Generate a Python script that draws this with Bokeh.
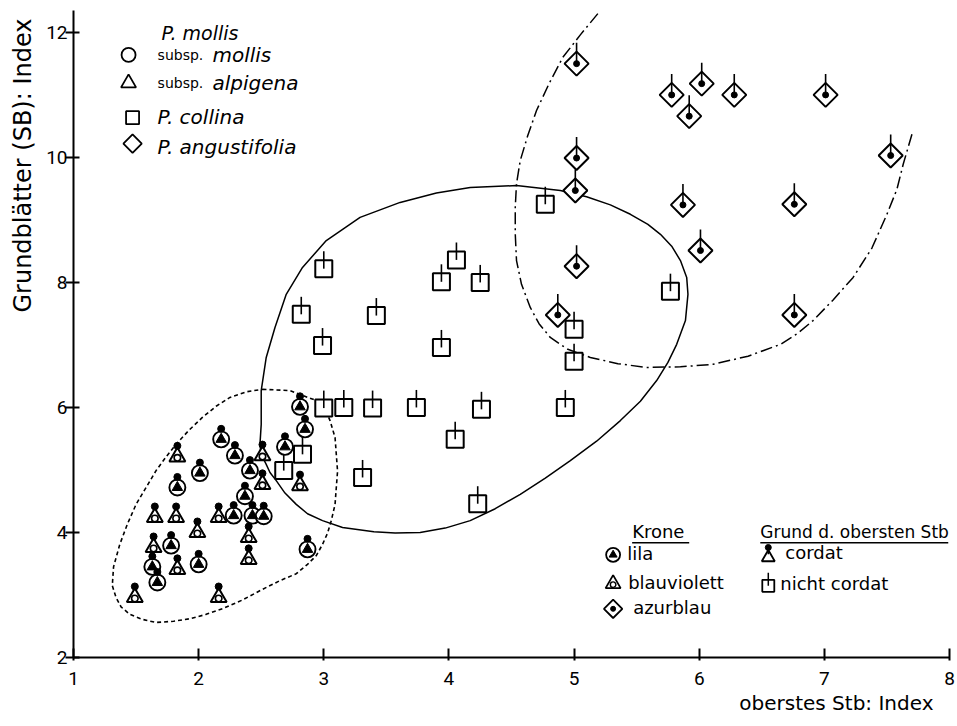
import math
from bokeh.plotting import figure
from bokeh.models import Range1d, FixedTicker, Label, Title
from bokeh.embed import file_html
from bokeh.resources import INLINE

# ---------------- data ----------------
x_ticks = [1, 2, 3, 4, 5, 6, 7, 8]
y_ticks = [2, 4, 6, 8, 10, 12]

# P. mollis subsp. mollis  (circle, Krone lila, cordat)
mollis_x = [2.81, 2.85, 2.69, 2.18, 2.29, 2.41, 2.01, 1.83, 2.37, 2.28, 2.43, 2.52, 1.78, 1.63, 1.67, 2.00, 2.87]
mollis_y = [6.01, 5.65, 5.37, 5.49, 5.23, 4.99, 4.95, 4.72, 4.58, 4.27, 4.27, 4.26, 3.79, 3.45, 3.20, 3.49, 3.73]

# P. mollis subsp. alpigena (triangle, Krone blauviolett, cordat)
alpigena_x = [1.83, 2.51, 2.51, 2.81, 1.65, 1.82, 2.16, 1.99, 1.64, 2.40, 2.40, 1.83, 1.49, 2.16]
alpigena_y = [5.21, 5.23, 4.77, 4.75, 4.24, 4.24, 4.24, 4.00, 3.76, 3.92, 3.57, 3.41, 2.96, 2.96]

# P. collina (square, nicht cordat)
collina_x = [4.77, 4.06, 3.94, 4.25, 3.00, 2.82, 3.42, 2.99, 3.94, 5.77, 5.00, 5.00,
             3.00, 3.16, 3.39, 3.74, 4.26, 4.93, 4.05, 2.83, 2.68, 3.31, 4.23]
collina_y = [9.25, 8.36, 8.01, 8.00, 8.22, 7.49, 7.47, 6.99, 6.96, 7.86, 7.25, 6.74,
             5.99, 6.00, 5.99, 6.00, 5.97, 6.00, 5.49, 5.25, 4.99, 4.88, 4.46]

# P. angustifolia (diamond, Krone azurblau, nicht cordat)
angust_x = [5.02, 5.78, 6.02, 5.92, 6.28, 7.01, 7.53, 5.02, 5.01, 5.87, 6.76, 6.01, 5.02, 4.87, 6.76]
angust_y = [11.50, 11.00, 11.18, 10.66, 11.00, 11.00, 10.03, 9.99, 9.47, 9.24, 9.25, 8.51, 8.26, 7.48, 7.48]

# enclosing curves
mollis_hull_x = [2.51, 2.73, 2.94, 3.01, 3.05, 3.09, 3.10, 3.11, 3.10, 3.09, 3.06, 3.03, 2.99, 2.94, 2.87,
                 2.78, 2.65, 2.51, 2.35, 2.19, 2.06, 1.93, 1.80, 1.66, 1.55, 1.45, 1.38, 1.34, 1.31,
                 1.32, 1.37, 1.43, 1.50, 1.58, 1.66, 1.74, 1.82, 1.92, 2.03, 2.14, 2.25, 2.38, 2.51]
mollis_hull_y = [6.29, 6.27, 6.11, 5.98, 5.79, 5.52, 5.25, 4.98, 4.72, 4.45, 4.19, 3.99, 3.81, 3.63, 3.49,
                 3.34, 3.23, 3.09, 2.92, 2.78, 2.69, 2.62, 2.58, 2.56, 2.61, 2.69, 2.81, 2.96, 3.15,
                 3.45, 3.81, 4.13, 4.45, 4.72, 4.99, 5.21, 5.41, 5.63, 5.84, 6.02, 6.16, 6.25, 6.29]

collina_hull_x = [2.49, 2.50, 2.50, 2.54, 2.61, 2.70, 2.83, 3.02, 3.29, 3.61, 3.90, 4.17, 4.54, 4.89,
                  5.10, 5.29, 5.45, 5.59, 5.69, 5.78, 5.85, 5.90, 5.91, 5.89, 5.82, 5.75, 5.66, 5.53,
                  5.37, 5.18, 4.97, 4.77, 4.57, 4.37, 4.17, 3.97, 3.77, 3.57, 3.40, 3.15, 2.99, 2.87,
                  2.78, 2.69, 2.62, 2.57, 2.54, 2.50, 2.49]
collina_hull_y = [5.41, 5.73, 6.27, 6.80, 7.28, 7.81, 8.24, 8.67, 9.04, 9.28, 9.43, 9.52, 9.55, 9.47,
                  9.37, 9.24, 9.09, 8.93, 8.77, 8.58, 8.35, 8.08, 7.81, 7.39, 7.01, 6.72, 6.43, 6.10,
                  5.79, 5.46, 5.15, 4.87, 4.61, 4.38, 4.19, 4.07, 4.00, 3.99, 4.01, 4.08, 4.19, 4.30,
                  4.45, 4.63, 4.83, 4.96, 5.09, 5.25, 5.41]

angust_hull_x = [5.19, 5.05, 4.91, 4.80, 4.70, 4.63, 4.57, 4.54, 4.53, 4.53, 4.54, 4.58, 4.65, 4.72,
                 4.81, 4.95, 5.13, 5.35, 5.58, 5.85, 6.11, 6.39, 6.65, 6.79, 6.91, 7.07, 7.23, 7.38,
                 7.50, 7.58, 7.63, 7.70]
angust_hull_y = [12.30, 11.96, 11.60, 11.18, 10.75, 10.35, 9.95, 9.58, 9.20, 8.78, 8.35, 7.97, 7.60, 7.34,
                 7.12, 6.93, 6.80, 6.70, 6.64, 6.65, 6.69, 6.82, 7.01, 7.19, 7.39, 7.72, 8.08, 8.55,
                 9.09, 9.49, 9.89, 10.37]

# ---------------- figure ----------------
PX_PER_Y = 62.5   # frame pixels per y unit
FONT = "DejaVu Sans"
TICKFONT = "Roboto"

p = figure(width=955, height=724, x_range=Range1d(1, 8), y_range=Range1d(2, 12.35),
           output_backend="svg", toolbar_location=None,
           min_border_left=73, min_border_right=6, min_border_top=10, min_border_bottom=67)
p.grid.visible = False
p.outline_line_color = None
p.background_fill_color = "white"
p.border_fill_color = "white"

p.xaxis.ticker = FixedTicker(ticks=x_ticks)
p.yaxis.ticker = FixedTicker(ticks=y_ticks)
for ax in (p.xaxis[0], p.yaxis[0]):
    ax.axis_line_width = 2
    ax.axis_line_color = "black"
    ax.major_tick_line_width = 2
    ax.major_tick_line_color = "black"
    ax.minor_tick_line_color = None
    ax.major_label_text_font = TICKFONT
    ax.major_label_text_font_size = "19px"
    ax.major_label_text_color = "black"
p.xaxis.major_tick_in = 9
p.xaxis.major_tick_out = 3
p.xaxis.major_label_standoff = 11
p.yaxis.major_tick_in = 6
p.yaxis.major_tick_out = 8
p.yaxis.major_label_standoff = -2

# axis titles (side titles so they can be end-aligned like the reference)
p.add_layout(Title(text="oberstes Stb: Index", align="right", offset=16, standoff=2,
                   text_font=FONT, text_font_size="20px", text_font_style="normal",
                   text_color="black"), "below")
p.add_layout(Title(text="Grundblätter (SB): Index", align="right", offset=8, standoff=13,
                   text_font=FONT, text_font_size="24px", text_font_style="normal",
                   text_color="black"), "left")

dy = lambda px: px / PX_PER_Y
LBL_FIX = dy(6)   # labels are drawn a few px below their anchor; compensate

# curves
p.line(mollis_hull_x, mollis_hull_y, line_color="black", line_width=1.6, line_dash="4 3")
p.line(collina_hull_x, collina_hull_y, line_color="black", line_width=1.5)
p.line(angust_hull_x, angust_hull_y, line_color="black", line_width=1.5, line_dash="12 4 2 4")

# P. collina squares with stems (nicht cordat)
p.scatter(collina_x, collina_y, marker="square", size=17, fill_color="white",
          line_color="black", line_width=2)
p.segment(x0=collina_x, y0=collina_y, x1=collina_x, y1=[v + dy(17.5) for v in collina_y],
          line_color="black", line_width=1.6)

# P. angustifolia diamonds with dot (azurblau) and stem (nicht cordat)
p.scatter(angust_x, angust_y, marker="square", angle=math.pi / 4, size=17, fill_color="white",
          line_color="black", line_width=2)
p.segment(x0=angust_x, y0=angust_y, x1=angust_x, y1=[v + dy(21) for v in angust_y],
          line_color="black", line_width=1.6)
p.scatter(angust_x, angust_y, marker="circle", size=6, fill_color="black", line_color="black")

# subsp. alpigena triangles with small circle (blauviolett) and dot (cordat)
p.scatter(alpigena_x, alpigena_y, marker="triangle", size=16, fill_color="white",
          line_color="black", line_width=2)
p.scatter(alpigena_x, [v - dy(1) for v in alpigena_y], marker="circle", size=6.5, fill_color="white",
          line_color="black", line_width=1.6)
p.scatter(alpigena_x, [v + dy(11) for v in alpigena_y], marker="circle", size=7,
          fill_color="black", line_color="black")

# subsp. mollis circles with filled triangle (lila) and dot (cordat)
p.scatter(mollis_x, mollis_y, marker="circle", size=16, fill_color="white",
          line_color="black", line_width=1.9)
p.scatter(mollis_x, mollis_y, marker="triangle", size=10.5, fill_color="black", line_color="black")
p.scatter(mollis_x, [v + dy(10.5) for v in mollis_y], marker="circle", size=7,
          fill_color="black", line_color="black")

# ---------------- legend keys ----------------
def txt(x, y, s, size="18px", style="normal", font=FONT):
    p.add_layout(Label(x=x, y=y + LBL_FIX, text=s, text_font=font, text_font_size=size,
                       text_font_style=style, text_align="left", text_baseline="alphabetic",
                       text_color="black"))

KEY = dict(line_color="black", line_width=1.8, fill_color="white")
# top-left legend
p.scatter([1.44], [11.64], marker="circle", size=14, **KEY)
p.scatter([1.44], [11.19], marker="triangle", size=15, **KEY)
p.scatter([1.472], [10.635], marker="square", size=13, **KEY)
p.scatter([1.472], [10.22], marker="square", angle=math.pi / 4, size=13, **KEY)
txt(1.704, 11.90, "P. mollis", size="19px", style="italic")
txt(1.672, 11.55, "subsp.", size="14px")
txt(2.11, 11.55, "mollis", size="20px", style="italic")
txt(1.672, 11.10, "subsp.", size="14px")
txt(2.11, 11.10, "alpigena", size="20px", style="italic")
txt(1.672, 10.555, "P. collina", size="20px", style="italic")
txt(1.672, 10.075, "P. angustifolia", size="20px", style="italic")

# bottom-right legend
txt(5.464, 3.915, "Krone")
txt(6.488, 3.915, "Grund d. obersten Stb", size="17px")
p.line([5.464, 5.92], [3.835, 3.835], line_color="black", line_width=1.5)
p.line([6.488, 7.99], [3.835, 3.835], line_color="black", line_width=1.5)

p.scatter([5.312], [3.643], marker="circle", size=14, **KEY)
p.scatter([5.312], [3.643], marker="triangle", size=8, fill_color="black", line_color="black")
txt(5.424, 3.563, "lila")
p.scatter([5.312], [3.179], marker="triangle", size=15, **KEY)
p.scatter([5.312], [3.165], marker="circle", size=5.5, fill_color="white", line_color="black", line_width=1.4)
txt(5.432, 3.099, "blauviolett")
p.scatter([5.312], [2.779], marker="square", angle=math.pi / 4, size=13, **KEY)
p.scatter([5.312], [2.779], marker="circle", size=5, fill_color="black", line_color="black")
txt(5.472, 2.699, "azurblau")

p.scatter([6.552], [3.60], marker="triangle", size=13, **KEY)
p.segment(x0=[6.552], y0=[3.65], x1=[6.552], y1=[3.75], line_color="black", line_width=1.5)
p.scatter([6.552], [3.76], marker="circle", size=6, fill_color="black", line_color="black")
txt(6.688, 3.579, "cordat")
p.scatter([6.552], [3.147], marker="square", size=12, **KEY)
p.segment(x0=[6.552], y0=[3.147], x1=[6.552], y1=[3.147 + dy(13)], line_color="black", line_width=1.5)
txt(6.648, 3.083, "nicht cordat")

open("out.html", "w").write(file_html(p, INLINE))
